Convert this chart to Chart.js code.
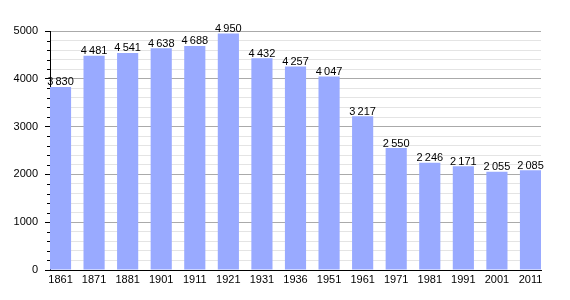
<!DOCTYPE html>
<html>
<head>
<meta charset="utf-8">
<script src="https://cdn.jsdelivr.net/npm/chart.js@4/dist/chart.umd.min.js"></script>
<style>
  html, body { margin: 0; padding: 0; background: #fff; }
  #wrap { width: 570px; height: 300px; }
</style>
</head>
<body>
<div id="wrap"><canvas id="chart"></canvas></div>
<script>
const years = ['1861', '1871', '1881', '1901', '1911', '1921', '1931', '1936',
    '1951', '1961', '1971', '1981', '1991', '2001', '2011'];
const population = [3830, 4481, 4541, 4638, 4688, 4950, 4432, 4257,
    4047, 3217, 2550, 2246, 2171, 2055, 2085];
const yTicks = [0, 1000, 2000, 3000, 4000, 5000];

const fontFamily = '"Liberation Sans", Arial, sans-serif';

// value labels on top of each bar, thin space as thousands separator
const barLabels = {
    id: 'barLabels',
    afterDatasetsDraw(chart) {
        const ctx = chart.ctx;
        const meta = chart.getDatasetMeta(0);
        ctx.save();
        ctx.font = '11px ' + fontFamily;
        ctx.fillStyle = '#000';
        ctx.textAlign = 'center';
        ctx.textBaseline = 'bottom';
        meta.data.forEach((bar, i) => {
            const txt = String(population[i]).replace(/\B(?=(\d{3})+(?!\d))/g, '\u2009');
            ctx.fillText(txt, bar.x, bar.y + 1);
        });
        ctx.restore();
    }
};

// short tick marks for the minor steps on the y axis
const minorTicks = {
    id: 'minorTicks',
    afterDraw(chart) {
        const ctx = chart.ctx;
        const y = chart.scales.y;
        ctx.save();
        ctx.strokeStyle = '#000';
        ctx.lineWidth = 1;
        y.ticks.forEach((t) => {
            if (t.value % 1000 === 0) return;
            const py = Math.round(y.getPixelForValue(t.value)) + 0.5;
            ctx.beginPath();
            ctx.moveTo(y.right - 3, py);
            ctx.lineTo(y.right, py);
            ctx.stroke();
        });
        ctx.restore();
    }
};

new Chart(document.getElementById('chart'), {
    type: 'bar',
    data: {
        datasets: [{
            data: population.map((v, i) => ({x: i, y: v})),
            backgroundColor: '#99aaff',
            borderWidth: 0,
            categoryPercentage: 1,
            barPercentage: 0.63
        }]
    },
    options: {
        responsive: true,
        maintainAspectRatio: false,
        animation: false,
        layout: {padding: {top: 31, right: 29, bottom: 0, left: 0}},
        plugins: {legend: {display: false}, tooltip: {enabled: false}},
        scales: {
            x: {
                type: 'linear',
                offset: false,
                min: -0.313,
                max: 14.313,
                afterBuildTicks: (scale) => {
                    scale.ticks = years.map((_, i) => ({value: i}));
                },
                afterFit: (scale) => { scale.height = 30; },
                grid: {display: false, offset: false},
                border: {display: true, color: '#000', width: 1},
                ticks: {
                    color: '#000',
                    font: {family: fontFamily, size: 11},
                    padding: -5,
                    maxRotation: 0,
                    autoSkip: false,
                    callback: (v) => years[v]
                }
            },
            y: {
                min: 0,
                max: 5000,
                afterBuildTicks: (scale) => {
                    const t = [];
                    for (let v = 0; v <= 5000; v += 200) t.push({value: v});
                    scale.ticks = t;
                },
                afterFit: (scale) => { scale.width = 50; },
                grid: {
                    color: (c) => c.tick.value % 1000 === 0 ? '#aaaaaa' : '#e4e4e4',
                    tickColor: (c) => c.tick.value % 1000 === 0 ? '#000' : 'rgba(0,0,0,0)',
                    tickLength: 5,
                    lineWidth: 1
                },
                border: {display: true, color: '#000', width: 1},
                ticks: {
                    color: '#000',
                    font: {family: fontFamily, size: 11},
                    padding: 7,
                    autoSkip: false,
                    callback: (v) => yTicks.includes(v) ? String(v) : ''
                }
            }
        }
    },
    plugins: [barLabels, minorTicks]
});
</script>
</body>
</html>
